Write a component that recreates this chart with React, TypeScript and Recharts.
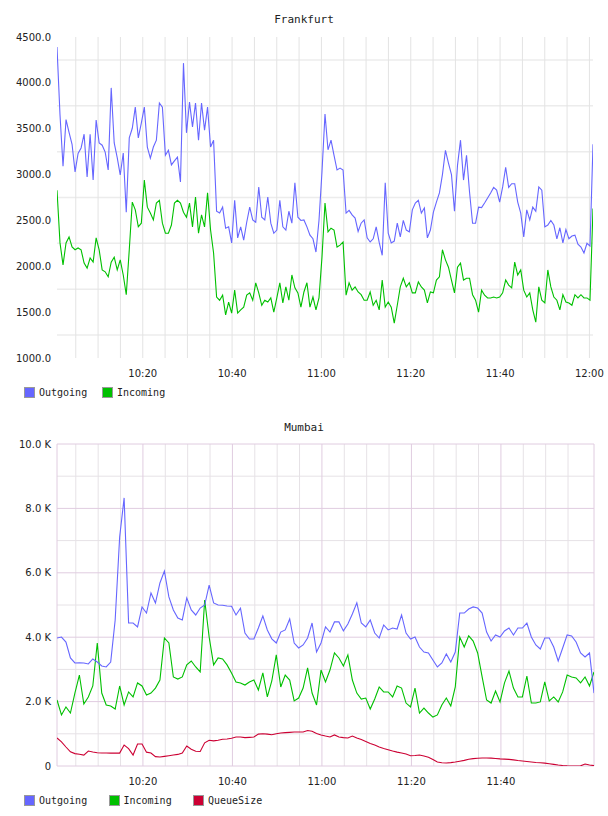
import React from 'react';
import { LineChart, Line, XAxis, YAxis, CartesianGrid } from 'recharts';

// time axis in minutes after 10:00
const T_START = 0.8;
const T_END = 120.8;

const X_TICKS_FRA = [20, 40, 60, 80, 100, 120];
const X_TICKS_MUM = [20, 40, 60, 80, 100];
const GRID_MIN_FRA = [5, 10, 15, 20, 25, 30, 35, 40, 45, 50, 55, 60, 65, 70, 75, 80, 85, 90, 95, 100, 105, 110, 115, 120];
const GRID_MIN_MUM_MINOR = [5, 10, 15, 25, 30, 35, 45, 50, 55, 65, 70, 75, 85, 90, 95, 105, 110, 115];
const GRID_MIN_MUM_MAJOR = [T_START, 20, 40, 60, 80, 100, T_END];

const FRA_Y_DOMAIN = [1000, 4500];
const FRA_Y_TICKS = [1000, 1500, 2000, 2500, 3000, 3500, 4000, 4500];
const FRA_Y_GRID = [1250, 1750, 2250, 2750, 3250, 3750, 4250];

const MUM_Y_DOMAIN = [0, 10000];
const MUM_Y_TICKS = [0, 2000, 4000, 6000, 8000, 10000];
const MUM_Y_GRID_MINOR = [1000, 3000, 5000, 7000, 9000];

const FRA_OUTGOING = [
  4390, 3650, 3090, 3600, 3460, 3330, 3030, 3230, 3290, 3440,
  2975, 3440, 2940, 3595, 3345, 3320, 3245, 3050, 3945, 3345,
  3185, 2995, 3235, 2590, 3400, 3505, 3735, 3400, 3560, 3735,
  3300, 3180, 3300, 3375, 3780, 3735, 3210, 3265, 3105, 3150,
  3190, 2920, 4215, 3455, 3790, 3520, 3780, 3375, 3780, 3485,
  3735, 3300, 3375, 2600, 2580, 2645, 2415, 2430, 2255, 2720,
  2310, 2430, 2285, 2480, 2645, 2505, 2480, 2865, 2535, 2505,
  2755, 2470, 2360, 2395, 2720, 2430, 2395, 2600, 2470, 2910,
  2535, 2500, 2505, 2430, 2340, 2300, 2155, 2500, 3030, 3660,
  3270, 3375, 3210, 3050, 3070, 3050, 2580, 2610, 2560, 2525,
  2380, 2470, 2505, 2310, 2265, 2300, 2430, 2260, 2120, 2910,
  2360, 2255, 2275, 2470, 2320, 2500, 2395, 2375, 2615, 2690,
  2720, 2580, 2635, 2310, 2395, 2590, 2700, 2800, 3000, 3265,
  3125, 3000, 2600, 3100, 3375, 2940, 3210, 2810, 2470, 2470,
  2645, 2640, 2690, 2745, 2800, 2860, 2830, 2700, 2865, 3080,
  2860, 2900, 2900, 2700, 2580, 2320, 2615, 2505, 2645, 2600,
  2865, 2830, 2430, 2450, 2500, 2450, 2300, 2420, 2255, 2400,
  2300, 2330, 2340, 2240, 2210, 2145, 2250, 2220, 3330,
];

const FRA_INCOMING = [
  2830, 2255, 2015, 2255, 2320, 2210, 2180, 2200, 2180, 2035,
  1980, 2090, 2045, 2310, 2180, 1960, 1940, 1885, 2045, 2100,
  1960, 2070, 1905, 1690, 2180, 2700, 2615, 2430, 2470, 2940,
  2645, 2580, 2505, 2690, 2720, 2470, 2360, 2360, 2450, 2690,
  2720, 2690, 2590, 2535, 2690, 2430, 2755, 2360, 2560, 2430,
  2800, 2395, 2145, 1665, 1630, 1685, 1470, 1610, 1490, 1740,
  1490, 1525, 1555, 1685, 1710, 1630, 1820, 1710, 1575, 1630,
  1610, 1655, 1500, 1655, 1820, 1600, 1775, 1630, 1905, 1765,
  1710, 1555, 1720, 1820, 1555, 1665, 1525, 1655, 2100, 2690,
  2375, 2415, 2395, 2210, 2230, 2265, 1685, 1820, 1740, 1775,
  1720, 1690, 1630, 1630, 1720, 1575, 1630, 1525, 1850, 1555,
  1610, 1555, 1380, 1575, 1775, 1870, 1775, 1820, 1710, 1710,
  1830, 1775, 1740, 1600, 1720, 1710, 1850, 1885, 2180, 2070,
  1990, 1850, 1710, 1990, 2035, 1850, 1870, 1870, 1690, 1630,
  1500, 1740, 1685, 1655, 1655, 1665, 1655, 1665, 1710, 1850,
  1795, 1765, 2045, 1905, 1960, 1740, 1665, 1710, 1525, 1390,
  1775, 1630, 1600, 1960, 1775, 1665, 1630, 1525, 1690, 1610,
  1600, 1575, 1690, 1655, 1690, 1655, 1655, 1630, 2630,
];

const MUM_OUTGOING = [
  3975, 4005, 3850, 3355, 3200, 3205, 3200, 3170, 3325, 3230,
  3105, 3075, 3230, 4535, 7110, 8325, 4440, 4440, 4320, 4940,
  4750, 5375, 5060, 5685, 6055, 5250, 4845, 4595, 4535, 5220,
  4845, 4690, 4905, 5000, 5620, 5065, 5000, 4990, 4970, 4960,
  4690, 4900, 4130, 3945, 3945, 4285, 4660, 4225, 3950, 3820,
  4160, 4225, 4565, 3820, 3665, 3760, 3975, 4440, 3540, 3820,
  4320, 4160, 4475, 4475, 4195, 4410, 4720, 5065, 4440, 4320,
  4535, 4130, 3975, 4380, 4225, 4285, 4255, 4690, 4130, 3945,
  4005, 3695, 3540, 3510, 3290, 3075, 3200, 3480, 3230, 3540,
  4750, 4750, 4875, 4940, 4905, 4750, 4160, 3880, 4070, 4005,
  4195, 4285, 4070, 4285, 4285, 4440, 4005, 3760, 3635, 3975,
  3975, 3695, 3260, 3665, 4070, 4040, 3850, 3510, 3385, 3510,
  2265,
];

const MUM_INCOMING = [
  2050, 1585, 1835, 1645, 2265, 2825, 1925, 2145, 2485, 3820,
  2265, 1895, 1865, 1770, 2485, 1895, 2300, 2145, 2580, 2485,
  2205, 2265, 2420, 2670, 3975, 3820, 2765, 2700, 2765, 3140,
  3260, 3075, 2920, 5155, 4005, 3140, 3355, 3325, 3140, 2890,
  2610, 2580, 2515, 2610, 2670, 2360, 2890, 2145, 2640, 3450,
  2455, 2825, 2670, 2020, 2110, 2420, 3045, 2265, 1895, 2980,
  2610, 2980, 3510, 3355, 3105, 3450, 2670, 2265, 2080, 2110,
  1770, 2080, 2455, 2300, 2300, 2145, 2485, 2420, 1955, 1835,
  2420, 1645, 1800, 1645, 1520, 1585, 1895, 2110, 1865, 2455,
  4005, 3695, 4040, 3880, 3510, 2765, 2050, 1955, 2330, 1990,
  2580, 2950, 2420, 2145, 2145, 2795, 1955, 1955, 1990, 2610,
  2020, 2145, 1990, 2300, 2825, 2765, 2735, 2580, 2765, 2485,
  2920,
];

const MUM_QUEUE = [
  870, 750, 590, 440, 385, 365, 340, 465, 435, 410,
  405, 405, 400, 400, 400, 650, 540, 340, 685, 685,
  430, 405, 290, 280, 300, 320, 340, 360, 400, 620,
  520, 460, 450, 720, 800, 780, 800, 830, 840, 860,
  900, 900, 880, 890, 900, 990, 1000, 990, 970, 1000,
  1025, 1035, 1045, 1055, 1055, 1055, 1100, 1080, 1010, 965,
  930, 900, 965, 900, 880, 870, 930, 870, 820, 760,
  700, 650, 590, 545, 505, 465, 430, 405, 370, 320,
  325, 340, 310, 270, 200, 125, 100, 95, 105, 125,
  150, 175, 210, 230, 240, 250, 250, 245, 235, 220,
  215, 205, 190, 170, 155, 140, 125, 110, 100, 90,
  70, 50, 30, 15, 5, 0, 0, 5, 60, 30,
  10,
];

const C_OUT = '#6666ff';
const C_IN = '#00c000';
const C_QUEUE = '#cc0033';

const fraData = FRA_OUTGOING.map((v, i) => ({
  t: T_START + (i * (T_END - T_START)) / (FRA_OUTGOING.length - 1),
  Outgoing: v,
  Incoming: FRA_INCOMING[i],
}));

const mumData = MUM_OUTGOING.map((v, i) => ({
  t: T_START + (i * (T_END - T_START)) / (MUM_OUTGOING.length - 1),
  Outgoing: v,
  Incoming: MUM_INCOMING[i],
  QueueSize: MUM_QUEUE[i],
}));

const fmtTime = (m: number) => {
  const h = 10 + Math.floor(m / 60);
  const mm = Math.round(m % 60);
  return `${h}:${String(mm).padStart(2, '0')}`;
};

const fmtK = (v: number) => (v === 0 ? '0' : `${(v / 1000).toFixed(1)} K`);

const tickStyle = { fontSize: 10, fill: '#222', fontFamily: 'DejaVu Sans' };
const mono = '"DejaVu Sans Mono", monospace';

// use the axis scale if it is reachable, otherwise map the domain onto the plot box
const applyScale = (s: any, v: number): number | undefined => {
  if (typeof s === 'function') return s(v);
  if (s && typeof s.map === 'function') return s.map(v);
  if (s && typeof s.apply === 'function') return s.apply(v);
  return undefined;
};

const xGen = (mins: number[]) => (props: any) => {
  const o = props.offset;
  return mins.map((m) => {
    const p = applyScale(props.xAxis?.scale, m);
    if (typeof p === 'number' && !Number.isNaN(p)) return p;
    return o.left + ((m - T_START) / (T_END - T_START)) * o.width;
  });
};

const yGen = (vals: number[], domain: number[]) => (props: any) => {
  const o = props.offset;
  return vals.map((v) => {
    const p = applyScale(props.yAxis?.scale, v);
    if (typeof p === 'number' && !Number.isNaN(p)) return p;
    return o.top + o.height - ((v - domain[0]) / (domain[1] - domain[0])) * o.height;
  });
};

function Title({ text, top }: { text: string; top: number }) {
  return (
    <div style={{
      position: 'absolute', top, left: 0, width: 608, textAlign: 'center',
      fontFamily: mono, fontSize: 11, lineHeight: '12px', color: '#222',
    }}>{text}</div>
  );
}

function LegendRow({ items, top, itemWidth }: { items: [string, string][]; top: number; itemWidth: number }) {
  return (
    <div style={{ position: 'absolute', top, left: 24, display: 'flex', fontFamily: mono, fontSize: 10, color: '#222' }}>
      {items.map(([name, color]) => (
        <div key={name} style={{ width: itemWidth, display: 'flex', alignItems: 'center' }}>
          <span style={{ display: 'inline-block', width: 9, height: 9, background: color, border: '1px solid #999', marginRight: 4 }} />
          <span style={{ lineHeight: '11px' }}>{name}</span>
        </div>
      ))}
    </div>
  );
}

export default function App() {
  return (
    <div style={{ position: 'absolute', left: 0, top: 0, width: 608, height: 816, background: '#fff' }}>
      <Title text="Frankfurt" top={14} />
      <div style={{ position: 'absolute', left: 0, top: 0 }}>
        <LineChart width={608} height={408} data={fraData} margin={{ top: 37, right: 15, bottom: 30, left: 0 }}>
          <CartesianGrid vertical={false} stroke="#ececec" strokeWidth={1.5}
            horizontalCoordinatesGenerator={yGen(FRA_Y_GRID, FRA_Y_DOMAIN)} />
          <CartesianGrid horizontal={false} stroke="#e3e3e3"
            verticalCoordinatesGenerator={xGen(GRID_MIN_FRA)} />
          <XAxis dataKey="t" type="number" domain={[T_START, T_END]} ticks={X_TICKS_FRA} interval={0}
            tickFormatter={fmtTime} axisLine={false} tickLine={false} tickSize={0} tickMargin={12}
            height={20} tick={tickStyle} allowDataOverflow />
          <YAxis type="number" domain={FRA_Y_DOMAIN} ticks={FRA_Y_TICKS} interval={0} width={57}
            tickFormatter={(v: number) => v.toFixed(1)} axisLine={false} tickLine={false} tickSize={0}
            tickMargin={6} tick={tickStyle} allowDataOverflow />
          <Line type="linear" dataKey="Incoming" stroke={C_IN} strokeWidth={1.1} dot={false} isAnimationActive={false} />
          <Line type="linear" dataKey="Outgoing" stroke={C_OUT} strokeWidth={1.1} dot={false} isAnimationActive={false} />
        </LineChart>
      </div>
      <LegendRow top={387} itemWidth={78} items={[['Outgoing', C_OUT], ['Incoming', C_IN]]} />

      <Title text="Mumbai" top={422} />
      <div style={{ position: 'absolute', left: 0, top: 408 }}>
        <LineChart width={608} height={408} data={mumData} margin={{ top: 36, right: 14, bottom: 30, left: 0 }}>
          <CartesianGrid vertical={false} stroke="#e6e2e6"
            horizontalCoordinatesGenerator={yGen(MUM_Y_GRID_MINOR, MUM_Y_DOMAIN)} />
          <CartesianGrid horizontal={false} stroke="#e6e2e6"
            verticalCoordinatesGenerator={xGen(GRID_MIN_MUM_MINOR)} />
          <CartesianGrid vertical={false} stroke="#e0cce0"
            horizontalCoordinatesGenerator={yGen(MUM_Y_TICKS, MUM_Y_DOMAIN)} />
          <CartesianGrid horizontal={false} stroke="#e0cce0"
            verticalCoordinatesGenerator={xGen(GRID_MIN_MUM_MAJOR)} />
          <XAxis dataKey="t" type="number" domain={[T_START, T_END]} ticks={X_TICKS_MUM} interval={0}
            tickFormatter={fmtTime} axisLine={false} tickLine={false} tickSize={0} tickMargin={12}
            height={20} tick={tickStyle} allowDataOverflow />
          <YAxis type="number" domain={MUM_Y_DOMAIN} ticks={MUM_Y_TICKS} interval={0} width={57}
            tickFormatter={fmtK} axisLine={false} tickLine={false} tickSize={0}
            tickMargin={6} tick={tickStyle} allowDataOverflow />
          <Line type="linear" dataKey="QueueSize" stroke={C_QUEUE} strokeWidth={1.1} dot={false} isAnimationActive={false} />
          <Line type="linear" dataKey="Incoming" stroke={C_IN} strokeWidth={1.1} dot={false} isAnimationActive={false} />
          <Line type="linear" dataKey="Outgoing" stroke={C_OUT} strokeWidth={1.1} dot={false} isAnimationActive={false} />
        </LineChart>
      </div>
      <LegendRow top={795} itemWidth={84.5} items={[['Outgoing', C_OUT], ['Incoming', C_IN], ['QueueSize', C_QUEUE]]} />
    </div>
  );
}
